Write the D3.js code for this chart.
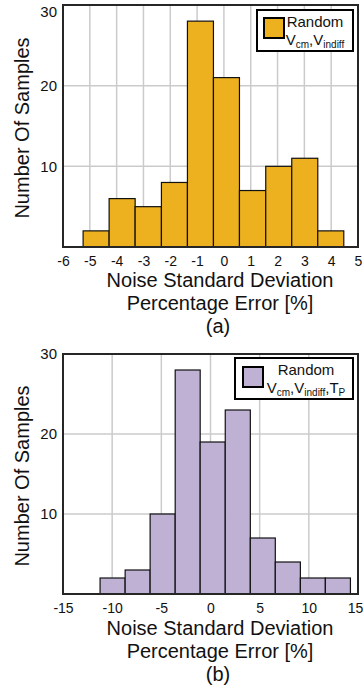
<!DOCTYPE html>
<html><head><meta charset="utf-8">
<script src="https://cdn.jsdelivr.net/npm/d3@7"></script>
<style>body{margin:0;background:#fff}svg{display:block;font-family:"Liberation Sans",Arial,sans-serif}</style>
</head><body>
<svg id="c" width="364" height="693"></svg>
<script>
// Panel (a)
const edgesA = [-5.25, -4.28, -3.31, -2.33, -1.36, -0.39, 0.58, 1.56, 2.53, 3.50, 4.47];
const countsA = [2, 6, 5, 8, 28, 21, 7, 10, 11, 2];
const xTicksA = [-6, -5, -4, -3, -2, -1, 0, 1, 2, 3, 4, 5];
// Panel (b)
const edgesB = [-11.23, -8.68, -6.14, -3.59, -1.05, 1.50, 4.05, 6.59, 9.14, 11.68, 14.23];
const countsB = [2, 3, 10, 28, 19, 23, 7, 4, 2, 2];
const xTicksB = [-15, -10, -5, 0, 5, 10, 15];
const yTicks = [10, 20, 30];
const xTitle = ["Noise Standard Deviation", "Percentage Error [%]"];
const yTitle = "Number Of Samples";

const svg = d3.select("#c");

function panel(o) {
  const g = svg.append("g");
  const x = d3.scaleLinear().domain(o.xDomain).range([63, 358]);
  const y = d3.scaleLinear().domain([0, 30]).range([o.bottom, o.top]);
  // grid
  g.selectAll(".gx").data(o.xTicks.slice(1, -1)).join("line")
    .attr("x1", d => x(d)).attr("x2", d => x(d)).attr("y1", o.top).attr("y2", o.bottom)
    .attr("stroke", "#cbcbcb").attr("stroke-width", 1.5);
  g.selectAll(".gy").data([10, 20]).join("line")
    .attr("x1", 63).attr("x2", 358).attr("y1", d => y(d)).attr("y2", d => y(d))
    .attr("stroke", "#cbcbcb").attr("stroke-width", 1.5);
  // bars
  const bins = o.counts.map((c, i) => ({x0: o.edges[i], x1: o.edges[i + 1], c}));
  g.selectAll(".bar").data(bins).join("rect")
    .attr("x", d => x(d.x0)).attr("width", d => x(d.x1) - x(d.x0))
    .attr("y", d => y(d.c)).attr("height", d => y(0) - y(d.c))
    .attr("fill", o.color).attr("stroke", "#111").attr("stroke-width", 1.2);
  // box
  g.append("rect").attr("x", 63).attr("y", o.top).attr("width", 295).attr("height", o.bottom - o.top)
    .attr("fill", "none").attr("stroke", "#262626").attr("stroke-width", 2);
  // axes labels
  const last = o.xTicks[o.xTicks.length - 1];
  const xa = g.append("g").attr("transform", `translate(0,${o.bottom})`)
    .call(d3.axisBottom(x).tickValues(o.xTicks).tickSize(0).tickPadding(0).tickFormat(d => String(d)));
  xa.select(".domain").remove();
  xa.selectAll("text").attr("font-size", 14).attr("fill", "#111").attr("font-family", "Liberation Sans, Arial, sans-serif")
    .attr("dy", null).attr("y", o.tickY - o.bottom)
    .attr("x", d => (d === last && String(d).length > 1) ? -3 : 0);
  const ya = g.append("g").attr("transform", "translate(63,0)")
    .call(d3.axisLeft(y).tickValues(yTicks).tickSize(0).tickPadding(6));
  ya.select(".domain").remove();
  ya.selectAll("text").attr("font-size", 15).attr("fill", "#111").attr("font-family", "Liberation Sans, Arial, sans-serif")
    .attr("dy", d => (d === 30 && o.top < 8) ? "0.75em" : "0.32em");
  // y title
  g.append("text").attr("transform", `translate(29,${(o.top + o.bottom) / 2 + 2}) rotate(-90)`)
    .attr("text-anchor", "middle").attr("font-size", 20).attr("fill", "#111").text(yTitle);
  // x title
  xTitle.forEach((t, i) => g.append("text").attr("x", 220).attr("y", o.titleY + i * 23)
    .attr("text-anchor", "middle").attr("font-size", 20).attr("fill", "#111").text(t));
  g.append("text").attr("x", 218).attr("y", o.titleY + 46).attr("text-anchor", "middle")
    .attr("font-size", 20).attr("fill", "#111").text(o.caption);
  // legend
  const L = o.legend;
  g.append("rect").attr("x", L.x).attr("y", L.y).attr("width", L.w).attr("height", L.h)
    .attr("fill", "#fff").attr("stroke", "#000").attr("stroke-width", 2);
  g.append("rect").attr("x", L.sx).attr("y", L.sy).attr("width", 20).attr("height", 20)
    .attr("fill", o.color).attr("stroke", "#000").attr("stroke-width", 2);
  g.append("text").attr("x", L.tx).attr("y", L.y + 17).attr("text-anchor", "middle")
    .attr("font-size", 15).attr("fill", "#111").text("Random");
  const t2 = g.append("text").attr("x", L.tx).attr("y", L.y + 35).attr("text-anchor", "middle")
    .attr("font-size", 15).attr("fill", "#111");
  L.parts.forEach(p => {
    t2.append("tspan").text(p[0]);
    t2.append("tspan").attr("font-size", 10).attr("dy", 3).text(p[1]);
    if (p[2]) t2.append("tspan").attr("dy", -3).text(p[2]);
  });
}

panel({xDomain: [-6, 5], xTicks: xTicksA, edges: edgesA, counts: countsA, color: "#EDB120",
  top: 5, bottom: 247, tickY: 266, titleY: 287, caption: "(a)",
  legend: {x: 257, y: 10, w: 96, h: 41, sx: 264, sy: 18, tx: 315,
    parts: [["V", "cm", ","], ["V", "indiff", ""]]}});
panel({xDomain: [-15, 15], xTicks: xTicksB, edges: edgesB, counts: countsB, color: "#BFB1D3",
  top: 354, bottom: 594, tickY: 613, titleY: 635, caption: "(b)",
  legend: {x: 235, y: 358, w: 118, h: 41, sx: 243, sy: 367, tx: 306,
    parts: [["V", "cm", ","], ["V", "indiff", ","], ["T", "P", ""]]}});
</script>
</body></html>
